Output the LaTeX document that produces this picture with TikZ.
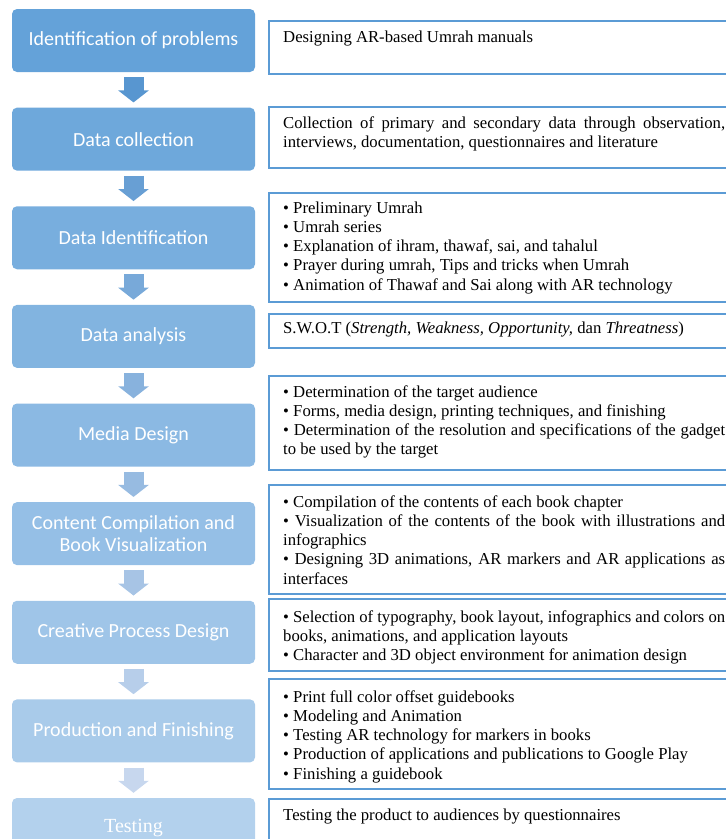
\documentclass[tikz,border=0pt]{standalone}
\usepackage{fontspec}
\setmainfont{Liberation Serif}
\newfontfamily\stepfont{Carlito}
\usetikzlibrary{arrows.meta, positioning}
\definecolor{boxtop}{RGB}{100,162,217}
\definecolor{boxbot}{RGB}{179,209,237}
\definecolor{arrtop}{RGB}{88,150,208}
\definecolor{arrbot}{RGB}{199,215,238}
\definecolor{noteline}{RGB}{91,155,213}
\tikzset{
  stepbox/.style={rounded corners=5pt, minimum width=243pt, minimum height=63pt,
    inner sep=0pt, text=white, align=center, font=\stepfont\fontsize{20}{22}\selectfont},
  stepflow/.style={line width=20pt, -{Triangle[width=30pt,length=12pt]},
    shorten <=5pt, shorten >=5pt},
  notebox/.style={draw=noteline, line width=1.5pt, minimum width=480pt,
    anchor=north west, inner sep=0pt},
  notetext/.style={text width=442pt, align=justify, inner sep=0pt,
    font=\fontsize{16.7}{19.2}\selectfont, execute at begin node={\parindent=0pt}}
}

\begin{document}
\begin{tikzpicture}[x=1pt, y=-1pt]
\useasboundingbox (0,0) rectangle (726,839);
\clip (0,0) rectangle (726,839);

% process steps
\foreach \i/\txt in {
    1/Identification of problems,
    2/Data collection,
    3/Data Identification,
    4/Data analysis,
    5/Media Design,
    6/{Content Compilation and\\Book Visualization},
    7/Creative Process Design,
    8/Production and Finishing,
    9/{\rmfamily\raisebox{7pt}{Testing}}} {
    \pgfmathsetmacro\pct{100-100*(\i-1)/8}
    \colorlet{stepfill}{boxtop!\pct!boxbot}
    \node[stepbox, fill=stepfill] (s\i) at (133.5, {40.5+98.625*(\i-1)}) {\txt};
}
\foreach \i [evaluate=\i as \j using int(\i+1)] in {1,...,8} {
    \pgfmathsetmacro\pct{100-100*(\i-1)/7}
    \colorlet{flowfill}{arrtop!\pct!arrbot}
    \draw[stepflow, draw=flowfill] (s\i) -- (s\j);
}

% descriptions
\node[notebox, minimum height=53pt] (n1) at (268,20) {};
\node[notetext, below right=8.7pt and 15pt of n1.north west] (n1t)
  {\strut Designing AR-based Umrah manuals};

\node[notebox, minimum height=61pt] (n2) at (268,106) {};
\node[notetext, below right=8.7pt and 15pt of n2.north west] (n2t)
  {\strut Collection of primary and secondary data through observation,\linebreak
   interviews, documentation, questionnaires and literature};

\node[notebox, minimum height=109pt] (n3) at (268,192) {};
\node[notetext, below right=7.7pt and 15pt of n3.north west] (n3t)
  {\strut • Preliminary Umrah\par
   • Umrah series\par
   • Explanation of ihram, thawaf, sai, and tahalul\par
   • Prayer during umrah, Tips and tricks when Umrah\par
   • Animation of Thawaf and Sai along with AR technology};

\node[notebox, minimum height=34pt] (n4) at (268,313) {};
\node[notetext, below right=6.7pt and 15pt of n4.north west] (n4t)
  {\strut S.W.O.T (\textit{Strength, Weakness, Opportunity,} dan \textit{Threatness})};

\node[notebox, minimum height=94pt] (n5) at (268,375) {};
\node[notetext, below right=8.7pt and 15pt of n5.north west] (n5t)
  {\strut • Determination of the target audience\par
   • Forms, media design, printing techniques, and finishing\par
   • Determination of the resolution and specifications of the gadget\linebreak
   to be used by the target};

\node[notebox, minimum height=109pt] (n6) at (268,484) {};
\node[notetext, below right=9.7pt and 15pt of n6.north west] (n6t)
  {\strut • Compilation of the contents of each book chapter\par
   • Visualization of the contents of the book with illustrations and\linebreak
   infographics\par
   • Designing 3D animations, AR markers and AR applications as\linebreak
   interfaces};

\node[notebox, minimum height=72pt] (n7) at (268,598) {};
\node[notetext, below right=10.7pt and 15pt of n7.north west] (n7t)
  {\strut • Selection of typography, book layout, infographics and colors on\linebreak
   books, animations, and application layouts\par
   • Character and 3D object environment for animation design};

\node[notebox, minimum height=110pt] (n8) at (268,678) {};
\node[notetext, below right=10.7pt and 15pt of n8.north west] (n8t)
  {\strut • Print full color offset guidebooks\par
   • Modeling and Animation\par
   • Testing AR technology for markers in books\par
   • Production of applications and publications to Google Play\par
   • Finishing a guidebook};

\node[notebox, minimum height=60pt] (n9) at (268,798) {};
\node[notetext, below right=8.7pt and 15pt of n9.north west] (n9t)
  {\strut Testing the product to audiences by questionnaires};
\end{tikzpicture}
\end{document}
